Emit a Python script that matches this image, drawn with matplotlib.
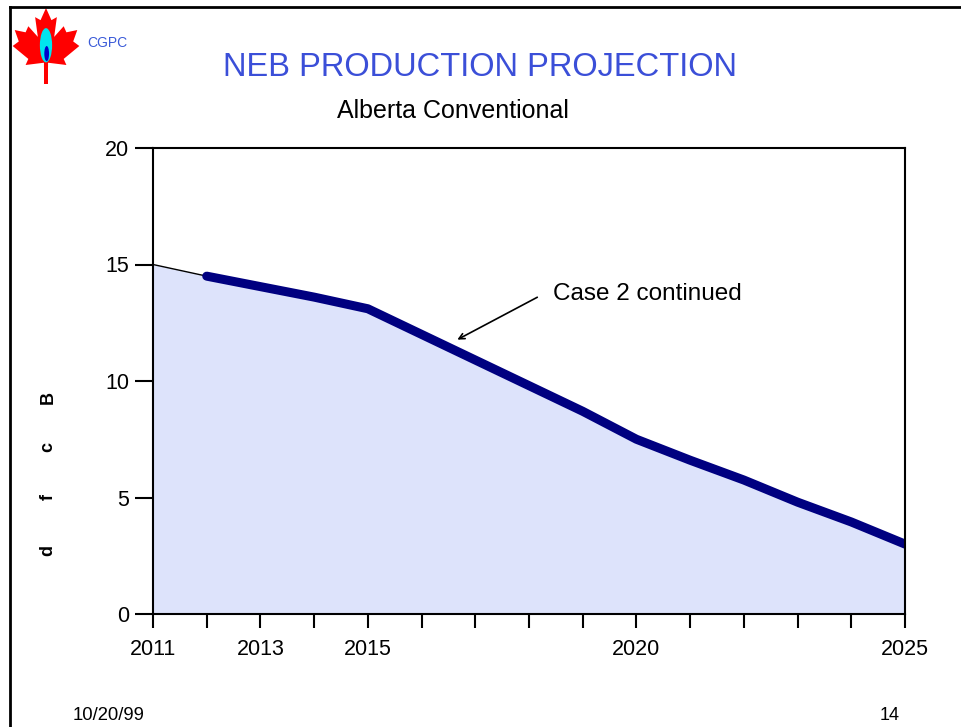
import matplotlib
matplotlib.use("Agg")
import matplotlib.pyplot as plt
from matplotlib.lines import Line2D
from matplotlib.patches import Polygon, Ellipse

plt.rcParams['font.family'] = ['Liberation Sans', 'DejaVu Sans']

# dane (Bcf/d)
years = [2011, 2012, 2013, 2014, 2015, 2016, 2017, 2018, 2019, 2020,
         2021, 2022, 2023, 2024, 2025]
production = [15.0, 14.5, 14.05, 13.6, 13.1, 12.0, 10.9, 9.8, 8.7, 7.5,
              6.6, 5.75, 4.8, 3.95, 3.0]
tick_years = [2011, 2013, 2015, 2020, 2025]
y_ticks = [0, 5, 10, 15, 20]

W, H = 961, 727
fig = plt.figure(figsize=(W / 100, H / 100), dpi=100)

# ramka strony (lewa i gorna krawedz)
fig.add_artist(Line2D([9.5 / W, 1.0], [1 - 6.5 / H, 1 - 6.5 / H], color='black', lw=2, transform=fig.transFigure))
fig.add_artist(Line2D([9.5 / W, 9.5 / W], [0.0, 1 - 6.5 / H], color='black', lw=2, transform=fig.transFigure))

ax = fig.add_axes([153 / W, 1 - 614 / H, 752 / W, 466 / H])
ax.fill_between(years, production, 0, color='#dde3fb', lw=0)
ax.plot(years[:2], production[:2], color='black', lw=1)
ax.plot(years[1:], production[1:], color='#000080', lw=6.5, solid_capstyle='round', solid_joinstyle='round')

ax.set_xlim(2011, 2025)
ax.set_ylim(0, 20)
ax.set_xticks(years)
ax.set_xticklabels([str(y) if y in tick_years else '' for y in years])
ax.set_yticks(y_ticks)
ax.tick_params(axis='x', direction='out', length=10, width=1.5, labelsize=15.5, pad=8)
ax.tick_params(axis='y', direction='out', length=13, width=1.5, labelsize=15.5, pad=4)
for s in ax.spines.values():
    s.set_linewidth(1.5)

ax.annotate('', xy=(2016.62, 11.72), xytext=(2018.2, 13.65),
            arrowprops=dict(arrowstyle='->', color='black', lw=1.2))
ax.text(2018.45, 13.73, 'Case 2 continued', fontsize=17.5, va='center', ha='left')

# tytuly
fig.text(480 / W, 1 - 67 / H, 'NEB PRODUCTION PROJECTION', color='#3b4fd8', fontsize=23.5, ha='center', va='center')
fig.text(453 / W, 1 - 111 / H, 'Alberta Conventional', color='black', fontsize=18, ha='center', va='center')

# opis osi Y - litery obrocone osobno
for ch, yp in zip(['B', 'c', 'f', 'd'], [397, 447, 497, 550]):
    fig.text(48 / W, 1 - yp / H, ch, rotation=90, fontsize=13, fontweight='bold', ha='center', va='center')

# stopka
fig.text(73 / W, 1 - 716 / H, '10/20/99', fontsize=13.3, ha='left', va='center')
fig.text(880 / W, 1 - 716 / H, '14', fontsize=13, ha='left', va='center')

# logo CGPC
lax = fig.add_axes([12 / W, 1 - 84 / H, 68 / W, 76 / H])
lax.set_xlim(0, 100)
lax.set_ylim(0, 100)
lax.axis('off')
leaf = [(50, 100), (58, 84), (66, 88), (62, 62), (76, 76), (80, 68), (96, 71), (90, 56), (99, 50),
        (76, 33), (80, 25), (53, 28), (53, 22), (47, 22), (47, 28), (20, 25), (24, 33), (1, 50),
        (10, 56), (4, 71), (20, 68), (24, 76), (38, 62), (34, 88), (42, 84)]
lax.add_patch(Polygon(leaf, closed=True, color='#ff0000', lw=0))
lax.add_patch(Polygon([(47, 0), (53, 0), (53, 30), (47, 30)], closed=True, color='#ff0000', lw=0))
lax.add_patch(Ellipse((50, 51), 18, 45, color='#00e5ee', lw=0))
lax.add_patch(Ellipse((51, 40), 7, 20, color='#0000cc', lw=0))
fig.text(87 / W, 1 - 43 / H, 'CGPC', color='#3b5bd8', fontsize=10, ha='left', va='center')

fig.savefig('out.png', dpi=100)
